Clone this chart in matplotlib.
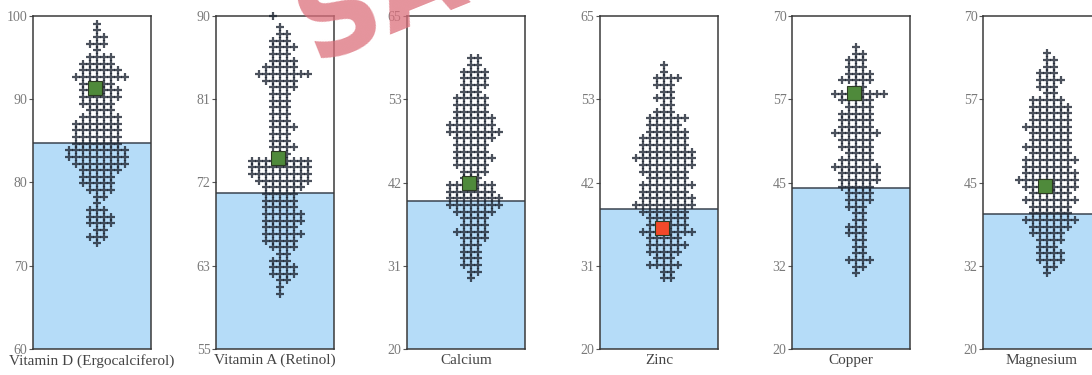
import numpy as np
import matplotlib.pyplot as plt

# 各パネルのデータ
names = ["Vitamin D (Ergocalciferol)", "Vitamin A (Retinol)", "Calcium", "Zinc", "Copper", "Magnesium"]
y_ranges = [(60, 100), (55, 90), (20, 65), (20, 65), (20, 70), (20, 70)]
thresholds = [84.7, 71.4, 40.0, 38.9, 44.1, 40.3]
marker_values = [91.4, 75.1, 42.5, 36.4, 58.5, 44.5]
marker_colors = ["#4f8a3b", "#4f8a3b", "#4f8a3b", "#f2492a", "#4f8a3b", "#4f8a3b"]

# 行ごとの点の数 (上から下へ)
row_top = [99.08, 88.8, 59.26, 58.36, 65.36, 64.37]
row_step = [0.80, 0.70, 0.90, 0.90, 1.0, 1.0]
counts_vitd = [1, 1, 2, 3, 1, 4, 5, 6, 8, 5, 6, 6, 5, 4, 6, 7, 7, 7, 7, 9,
               9, 8, 6, 5, 5, 4, 2, 1, 3, 4, 4, 2, 3, 1]
counts_vita = [1, 2, 3, 4, 3, 4, 5, 8, 5, 4, 3, 3, 3, 3, 3, 4, 3, 3, 4, 2,
               9, 9, 9, 8, 6, 5, 5, 5, 6, 6, 5, 6, 5, 4, 2, 3, 4, 4, 2, 1, 1]
counts_ca = [2, 2, 4, 4, 4, 3, 5, 5, 5, 6, 7, 8, 6, 5, 5, 6, 5, 4, 3, 7,
             7, 8, 8, 6, 4, 4, 5, 4, 3, 3, 3, 3, 2, 1]
counts_zn = [1, 1, 4, 3, 2, 3, 2, 3, 6, 5, 6, 7, 7, 8, 9, 8, 7, 6, 8, 7,
             8, 9, 7, 6, 6, 8, 5, 6, 5, 3, 5, 2, 2]
counts_cu = [1, 2, 3, 3, 4, 5, 2, 8, 5, 4, 5, 5, 5, 7, 5, 5, 4, 5, 7, 6,
             6, 5, 4, 4, 3, 2, 2, 3, 3, 2, 2, 2, 4, 2, 1]
counts_mg = [1, 2, 2, 3, 4, 3, 2, 5, 6, 6, 6, 7, 6, 6, 7, 6, 8, 7, 8, 9,
             8, 6, 8, 6, 6, 8, 6, 5, 4, 3, 4, 4, 2, 1]
all_counts = [counts_vitd, counts_vita, counts_ca, counts_zn, counts_cu, counts_mg]

# 個別の点 (パネル番号, 値, 列)
extra_points = [(1, 90.0, -1)]

# レイアウト (ピクセル)
W, H = 1092, 375
lefts = [33, 216, 407, 600, 792, 983]
box_w, box_top, box_bot = 118, 16, 349
col_px = 7.0
half = box_w / col_px / 2
shift = 0.7

fig = plt.figure(figsize=(W / 100, H / 100), dpi=100)

for i in range(6):
    ax = fig.add_axes([lefts[i] / W, (H - box_bot) / H, box_w / W, (box_bot - box_top) / H])
    lo, hi = y_ranges[i]
    ax.set_ylim(lo, hi)
    ax.set_xlim(-half - shift, half - shift)

    ax.axhspan(lo, thresholds[i], color="#b5dcf8", zorder=0, lw=0)
    ax.axhline(thresholds[i], color="#3a4450", lw=1.1, zorder=1)

    xs, ys = [], []
    for r, n in enumerate(all_counts[i]):
        yv = row_top[i] - r * row_step[i]
        cols = np.arange(n) - (n - 1) // 2
        xs.extend(cols)
        ys.extend([yv] * n)
    for p, yv, c in extra_points:
        if p == i:
            xs.append(c)
            ys.append(yv)
    ax.plot(xs, ys, "+", color="#1e2633", alpha=0.8, ms=6.2, mew=1.6, zorder=3, clip_on=False)

    ax.plot([-0.25], [marker_values[i]], "s", ms=9.5, mfc=marker_colors[i], mec="#2b3a22",
            mew=0.8, zorder=4)

    ticks = np.linspace(lo, hi, 5)
    ax.set_yticks(ticks)
    ax.set_yticklabels([str(int(t)) for t in ticks])
    ax.set_xticks([])
    ax.tick_params(axis="y", length=3, width=0.8, color="#555555", pad=1,
                   labelsize=10, labelcolor="#7a7a7a")
    for lab in ax.get_yticklabels():
        lab.set_family("Liberation Serif")
    for s in ax.spines.values():
        s.set_color("#3a3a3a")
        s.set_linewidth(1.1)

    ax.text(0.5, -0.014, names[i], transform=ax.transAxes, ha="center", va="top",
            fontsize=11, family="Liberation Serif", color="#444444")

# 透かし
fig.text(282 / W, 1 - 60 / H, "SAMPLE", rotation=22, fontsize=82, weight="bold",
         color="#dc6f7b", alpha=0.75, ha="left", va="baseline", zorder=10)

fig.savefig("out.png", dpi=100)
